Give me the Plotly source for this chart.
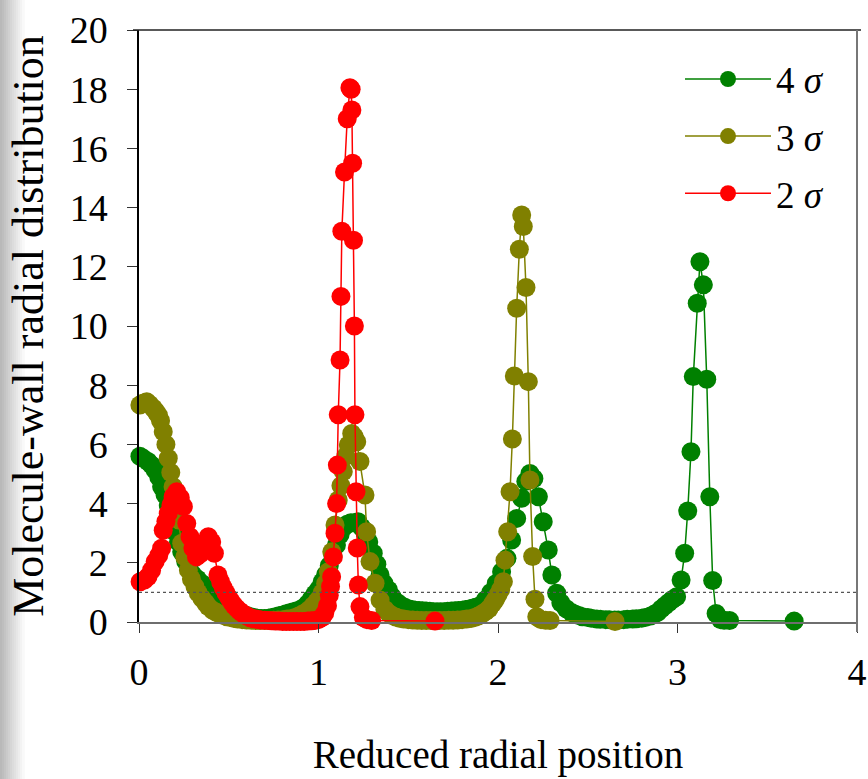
import plotly.graph_objects as go

# ---- data ----
x_4s = [0.005, 0.025, 0.05, 0.07, 0.09, 0.11, 0.126, 0.145, 0.163, 0.18, 0.2, 0.22, 0.238, 0.26, 0.28,
        0.3, 0.325, 0.35, 0.375, 0.4, 0.43, 0.46, 0.49, 0.52, 0.55, 0.58, 0.6, 0.62, 0.64, 0.66,
        0.68, 0.7, 0.72, 0.74, 0.76, 0.78, 0.8, 0.82, 0.84, 0.86, 0.88, 0.9, 0.92, 0.94, 0.96,
        0.98, 1.0, 1.02, 1.04, 1.06, 1.08, 1.1, 1.12, 1.14, 1.16, 1.18, 1.2, 1.22, 1.24, 1.26,
        1.28, 1.305, 1.325, 1.343, 1.365, 1.39, 1.41, 1.44, 1.46, 1.48, 1.5, 1.52, 1.54, 1.56, 1.58,
        1.6, 1.62, 1.64, 1.66, 1.68, 1.7, 1.72, 1.74, 1.76, 1.78, 1.8, 1.82, 1.84, 1.86, 1.88,
        1.9, 1.93, 1.96, 1.99, 2.02, 2.05, 2.076, 2.104, 2.132, 2.155, 2.178, 2.2, 2.225, 2.252, 2.28,
        2.3, 2.327, 2.35, 2.38, 2.41, 2.43, 2.45, 2.47, 2.5, 2.52, 2.55, 2.57, 2.6, 2.62, 2.65,
        2.67, 2.7, 2.72, 2.75, 2.77, 2.8, 2.82, 2.85, 2.87, 2.89, 2.91, 2.93, 2.95, 2.97, 2.995,
        3.02, 3.04, 3.057, 3.075, 3.088, 3.11, 3.125, 3.144, 3.163, 3.18, 3.196, 3.215, 3.24, 3.26, 3.29,
        3.65]
y_4s = [5.6, 5.52, 5.42, 5.3, 5.13, 4.9, 4.57, 4.3, 3.95, 3.5, 3.05, 2.7, 2.37, 2.05, 1.8,
        1.6, 1.45, 1.3, 1.12, 0.97, 0.8, 0.65, 0.52, 0.42, 0.33, 0.26, 0.22, 0.18, 0.15, 0.13,
        0.12, 0.12, 0.13, 0.15, 0.18, 0.21, 0.24, 0.28, 0.31, 0.35, 0.38, 0.42, 0.5, 0.62, 0.78,
        0.95, 1.1, 1.35, 1.6, 1.9, 2.25, 2.6, 2.95, 3.2, 3.3, 3.35, 3.35, 3.39, 3.2, 3.0,
        2.7, 2.32, 1.95, 1.59, 1.3, 1.08, 0.85, 0.65, 0.56, 0.5, 0.45, 0.42, 0.4, 0.39, 0.38,
        0.37, 0.36, 0.35, 0.35, 0.35, 0.35, 0.36, 0.37, 0.38, 0.39, 0.4, 0.42, 0.44, 0.47, 0.51,
        0.55, 0.75, 1.0, 1.3, 1.7, 2.15, 2.77, 3.5, 4.18, 4.75, 5.02, 4.85, 4.23, 3.39, 2.43,
        1.59, 0.97, 0.65, 0.45, 0.32, 0.26, 0.22, 0.18, 0.15, 0.13, 0.1, 0.09, 0.08, 0.08, 0.07,
        0.07, 0.08, 0.09, 0.1, 0.11, 0.13, 0.15, 0.2, 0.26, 0.33, 0.45, 0.55, 0.65, 0.75, 0.85,
        1.42, 2.32, 3.75, 5.75, 8.29, 10.77, 12.17, 11.39, 8.2, 4.23, 1.4, 0.29, 0.08, 0.06, 0.05,
        0.03]

x_3s = [0.005, 0.025, 0.043, 0.06, 0.08, 0.095, 0.108, 0.12, 0.135, 0.15, 0.163, 0.177, 0.19, 0.205, 0.22,
        0.238, 0.255, 0.275, 0.292, 0.312, 0.33, 0.35, 0.37, 0.386, 0.41, 0.43, 0.45, 0.47, 0.49, 0.51,
        0.53, 0.55, 0.575, 0.6, 0.625, 0.65, 0.675, 0.7, 0.725, 0.75, 0.775, 0.8, 0.825, 0.85, 0.87,
        0.89, 0.91, 0.93, 0.95, 0.97, 0.99, 1.0, 1.02, 1.04, 1.055, 1.074, 1.092, 1.11, 1.125, 1.138,
        1.152, 1.166, 1.185, 1.2, 1.213, 1.231, 1.259, 1.268, 1.287, 1.315, 1.343, 1.37, 1.39, 1.41, 1.43,
        1.45, 1.475, 1.5, 1.525, 1.55, 1.575, 1.6, 1.625, 1.65, 1.675, 1.7, 1.725, 1.75, 1.775, 1.8,
        1.825, 1.85, 1.87, 1.89, 1.91, 1.93, 1.95, 1.97, 1.985, 2.0, 2.015, 2.03, 2.039, 2.054, 2.067,
        2.08, 2.091, 2.104, 2.119, 2.132, 2.141, 2.156, 2.169, 2.178, 2.193, 2.206, 2.216, 2.24, 2.265, 2.29,
        2.652]
y_3s = [7.33, 7.4, 7.44, 7.35, 7.22, 7.1, 6.99, 6.8, 6.43, 6.0, 5.53, 5.05, 4.57, 4.0, 3.45,
        2.66, 2.2, 1.76, 1.45, 1.19, 0.98, 0.8, 0.65, 0.52, 0.4, 0.33, 0.27, 0.22, 0.18, 0.15,
        0.12, 0.1, 0.08, 0.07, 0.06, 0.05, 0.05, 0.05, 0.05, 0.06, 0.07, 0.08, 0.1, 0.12, 0.15,
        0.2, 0.26, 0.33, 0.42, 0.55, 0.68, 0.75, 0.98, 1.3, 1.7, 2.37, 3.28, 4.12, 4.6, 5.08,
        5.6, 5.98, 6.37, 6.25, 6.09, 5.42, 4.29, 3.05, 2.04, 1.31, 0.74, 0.42, 0.3, 0.22, 0.17,
        0.13, 0.1, 0.08, 0.07, 0.06, 0.05, 0.05, 0.05, 0.05, 0.05, 0.05, 0.06, 0.06, 0.07, 0.08,
        0.1, 0.12, 0.15, 0.2, 0.27, 0.35, 0.45, 0.62, 0.75, 0.92, 1.1, 1.36, 2.09, 3.05, 4.4,
        6.18, 8.31, 10.6, 12.59, 13.75, 13.36, 11.3, 8.12, 4.8, 2.21, 0.77, 0.18, 0.08, 0.06, 0.05,
        0.02]

x_2s = [0.006, 0.03, 0.05, 0.07, 0.09, 0.11, 0.126, 0.135, 0.15, 0.163, 0.178, 0.19, 0.21, 0.23, 0.247,
        0.266, 0.284, 0.3, 0.32, 0.34, 0.36, 0.386, 0.405, 0.42, 0.44, 0.455, 0.47, 0.485, 0.5, 0.515,
        0.53, 0.545, 0.56, 0.575, 0.59, 0.6, 0.62, 0.64, 0.66, 0.68, 0.7, 0.72, 0.74, 0.76, 0.78,
        0.8, 0.82, 0.84, 0.86, 0.88, 0.9, 0.92, 0.94, 0.96, 0.98, 1.0, 1.02, 1.035, 1.05, 1.06,
        1.067, 1.073, 1.083, 1.092, 1.101, 1.105, 1.11, 1.12, 1.125, 1.13, 1.145, 1.16, 1.175, 1.182, 1.186,
        1.19, 1.195, 1.2, 1.203, 1.209, 1.216, 1.222, 1.231, 1.25, 1.27, 1.296, 1.649]
y_2s = [1.36, 1.42, 1.53, 1.75, 2.04, 2.25, 2.49, 3.1, 3.4, 3.67, 3.95, 4.23, 4.4, 4.2, 3.9,
        3.33, 2.88, 2.5, 2.2, 2.3, 2.65, 2.88, 2.7, 2.32, 1.59, 1.35, 1.15, 0.98, 0.82, 0.68,
        0.56, 0.46, 0.37, 0.3, 0.24, 0.2, 0.14, 0.11, 0.09, 0.07, 0.06, 0.05, 0.04, 0.03, 0.03,
        0.02, 0.02, 0.02, 0.02, 0.02, 0.02, 0.02, 0.03, 0.04, 0.05, 0.08, 0.15, 0.3, 0.55, 0.9,
        1.2, 1.53, 2.2, 3.0, 4.0, 5.3, 7.0, 8.85, 11.0, 13.2, 15.2, 17.0, 18.05, 18.0, 17.3,
        15.5, 12.9, 10.0, 7.0, 4.4, 2.5, 1.25, 0.52, 0.15, 0.08, 0.05, 0.03]

series_names = ["4 <i>σ</i>", "3 <i>σ</i>", "2 <i>σ</i>"]
series_colors = ["#008000", "#808000", "#FF0000"]
series_x = [x_4s, x_3s, x_2s]
series_y = [y_4s, y_3s, y_2s]

x_ticks = [0, 1, 2, 3, 4]
y_ticks = [0, 2, 4, 6, 8, 10, 12, 14, 16, 18, 20]
reference_level = 1

FONT = "Times New Roman"

fig = go.Figure()
for i, (name, col, xs, ys) in enumerate(zip(series_names, series_colors, series_x, series_y)):
    fig.add_trace(go.Scatter(
        x=xs, y=ys, name=name, mode="lines+markers",
        line=dict(color=col, width=1.5),
        marker=dict(color=col, size=19, line=dict(width=0)),
        cliponaxis=False, legendgroup=f"g{i}",
    ))

shapes = []
# left-edge grey gradient (page decoration)
n = 12
for k in range(n):
    g = int(185 + (255 - 185) * k / n)
    shapes.append(dict(type="rect", xref="paper", yref="paper",
                       x0=-139 / 718 + k * 2 / 718, x1=-139 / 718 + (k + 1) * 2 / 718 + 0.001,
                       y0=-157 / 592, y1=1 + 30 / 592,
                       fillcolor=f"rgb({g},{g},{g})", line=dict(width=0), layer="below"))
# dotted reference line
shapes.append(dict(type="line", xref="x", yref="y", x0=x_ticks[0], x1=x_ticks[-1],
                   y0=reference_level, y1=reference_level,
                   line=dict(color="#555555", width=1.2, dash="dot")))
# top and right frame
shapes.append(dict(type="line", xref="paper", yref="paper", x0=-6 / 718, x1=1 + 4 / 718, y0=1, y1=1,
                   line=dict(color="#222222", width=1.5)))
shapes.append(dict(type="line", xref="paper", yref="paper", x0=1, x1=1, y0=-10 / 592, y1=1,
                   line=dict(color="#777777", width=2)))

fig.update_layout(
    width=868, height=779,
    margin=dict(l=139, r=11, t=30, b=157),
    paper_bgcolor="white", plot_bgcolor="white",
    font=dict(family=FONT, size=36, color="black"),
    showlegend=True,
    legend=dict(x=(680 - 139) / 718, y=0.9688, xanchor="left", yanchor="top",
                bgcolor="rgba(0,0,0,0)", font=dict(family=FONT, size=37),
                tracegroupgap=6, itemwidth=86),
    shapes=shapes,
    xaxis=dict(range=[0, 4], tickvals=x_ticks, ticktext=[str(v) for v in x_ticks],
               showgrid=False, zeroline=False, showline=True, linecolor="#6e6e6e", linewidth=2,
               ticks="outside", ticklen=9, tickcolor="#333333", tickwidth=1.2,
               tickfont=dict(family=FONT, size=38), ticklabelstandoff=6,
               title=dict(text="Reduced radial position", font=dict(family=FONT, size=39), standoff=49),
               automargin=False),
    yaxis=dict(range=[0, 20], tickvals=y_ticks, ticktext=[str(v) for v in y_ticks],
               showgrid=False, zeroline=False, showline=True, linecolor="black", linewidth=1.5,
               ticks="outside", ticklen=10, tickcolor="#333333", tickwidth=1.2,
               tickfont=dict(family=FONT, size=38), ticklabelstandoff=12,
               title=dict(text="Molecule-wall radial distribution", font=dict(family=FONT, size=44), standoff=12),
               automargin=False),
)

fig.write_html("out.html")
